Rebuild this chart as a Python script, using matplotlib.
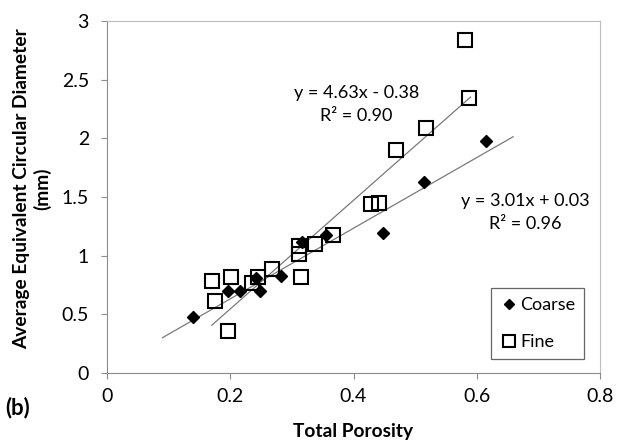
import matplotlib
matplotlib.use("Agg")
import matplotlib.pyplot as plt
import numpy as np

plt.rcParams["font.family"] = ["Lato", "DejaVu Sans"]

# Fine fraction: total porosity vs. average equivalent circular diameter (mm)
fine_x = [0.581, 0.588, 0.517, 0.469, 0.428, 0.441, 0.366, 0.337, 0.312, 0.312,
          0.314, 0.267, 0.245, 0.235, 0.202, 0.171, 0.175, 0.197]
fine_y = [2.84, 2.34, 2.09, 1.90, 1.44, 1.45, 1.18, 1.10, 1.08, 1.01,
          0.82, 0.89, 0.82, 0.77, 0.82, 0.78, 0.61, 0.36]

# Coarse fraction
coarse_x = [0.140, 0.197, 0.216, 0.241, 0.248, 0.283, 0.316, 0.355, 0.448, 0.515, 0.615]
coarse_y = [0.48, 0.70, 0.70, 0.81, 0.70, 0.83, 1.12, 1.18, 1.19, 1.63, 1.98]

# trendline coefficients and the x span Excel drew them over
fine_fit = (4.63, -0.38)
fine_span = (0.170, 0.590)
coarse_fit = (3.01, 0.03)
coarse_span = (0.090, 0.659)

fine_eq = "y = 4.63x - 0.38\nR² = 0.90"
coarse_eq = "y = 3.01x + 0.03\nR² = 0.96"

x_ticks = [0, 0.2, 0.4, 0.6, 0.8]
y_ticks = [0, 0.5, 1, 1.5, 2, 2.5, 3]

W, H = 623, 440
fig = plt.figure(figsize=(W / 100, H / 100), dpi=100)
ax = fig.add_axes((107 / W, 1 - 373 / H, 493 / W, 352 / H))

for (m, b), (x0, x1) in ((coarse_fit, coarse_span), (fine_fit, fine_span)):
    xs = np.array([x0, x1])
    ax.plot(xs, m * xs + b, color="#7a7a7a", linewidth=0.9, zorder=2)

ax.plot(coarse_x, coarse_y, linestyle="none", marker="D", markersize=6.4,
        color="black", markeredgecolor="black", label="Coarse", zorder=4)
ax.plot(fine_x, fine_y, linestyle="none", marker="s", markersize=9.7,
        markerfacecolor="none", markeredgecolor="black", markeredgewidth=1.5,
        label="Fine", zorder=3)

ax.text(0.405, 2.29, fine_eq, ha="center", va="center", fontsize=13,
        linespacing=1.5)
ax.text(0.678, 1.37, coarse_eq, ha="center", va="center", fontsize=13,
        linespacing=1.5)

ax.set_xlim(0, 0.8)
ax.set_ylim(0, 3)
ax.set_xticks(x_ticks)
ax.set_xticklabels([f"{v:g}" for v in x_ticks])
ax.set_yticks(y_ticks)
ax.set_yticklabels([f"{v:g}" for v in y_ticks])
ax.tick_params(axis="both", labelsize=14, length=4.5, width=0.8, color="#8c8c8c")
ax.tick_params(axis="x", pad=6)
ax.tick_params(axis="y", pad=8.5)

for side in ("left", "bottom"):
    ax.spines[side].set_color("#8c8c8c")
    ax.spines[side].set_linewidth(0.8)
for side in ("top", "right"):
    ax.spines[side].set_color("#bdbdbd")
    ax.spines[side].set_linewidth(0.8)

leg_handles, leg_labels = ax.get_legend_handles_labels()
leg = ax.legend(leg_handles, leg_labels, loc="center",
                bbox_to_anchor=(488 / W, 1 - 361 / H, 99 / W, 75 / H),
                bbox_transform=fig.transFigure, fontsize=13, frameon=True,
                fancybox=False, borderpad=0.5, labelspacing=1.15,
                handlelength=1.0, handletextpad=0.15, markerscale=0.85,
                borderaxespad=0)
leg.get_frame().set_edgecolor("#404040")
leg.get_frame().set_linewidth(0.9)

fig.text(32 / W, 1 - 189 / H, "Average Equivalent Circular Diameter\n(mm)",
         rotation=90, ha="center", va="center", fontsize=13.8, fontweight="bold",
         multialignment="center", linespacing=1.2)
fig.text(353 / W, 1 - 437 / H, "Total Porosity", ha="center", va="baseline",
         fontsize=13.8, fontweight="bold")
fig.text(5 / W, 1 - 408 / H, "(b)", ha="left", va="center", fontsize=16,
         fontweight="bold")

fig.savefig("out.png", dpi=100)
